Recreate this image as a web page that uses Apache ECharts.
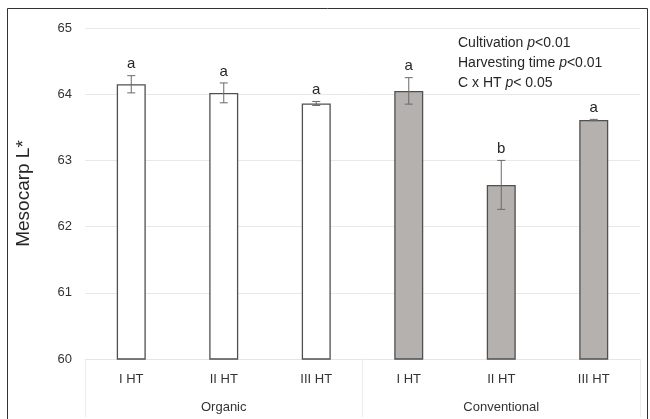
<!DOCTYPE html>
<html><head><meta charset="utf-8">
<script src="https://cdn.jsdelivr.net/npm/echarts@6/dist/echarts.min.js"></script>
<style>html,body{margin:0;padding:0;background:#fff}#c{width:650px;height:419px}</style>
</head><body><div id="c"></div>
<script>
const categories = ['I HT','II HT','III HT','I HT','II HT','III HT'];
const groups = ['Organic','Conventional'];
const means = [64.15, 64.02, 63.86, 64.05, 62.63, 63.61];
const errors = [0.13, 0.15, 0.03, 0.20, 0.37, 0.01];
const letters = ['a','a','a','a','b','a'];
const yTicks = [60, 61, 62, 63, 64, 65];
const notes = ['Cultivation ', 'Harvesting time ', 'C x HT '];
const noteP = ['<0.01', '<0.01', '< 0.05'];

const FONT = '"Liberation Sans", Arial, sans-serif';
const chart = echarts.init(document.getElementById('c'));
const barData = means.map((v,i)=>({value:v, itemStyle:{color: i<3 ? '#ffffff' : '#b5b1ae'}}));
chart.setOption({
  animation:false,
  backgroundColor:'#fff',
  grid:{left:85, right:10, top:28, bottom:60},
  xAxis:[{
    type:'category', data:categories, position:'bottom',
    axisLine:{show:true, lineStyle:{color:'#e6e6e6'}}, axisTick:{show:false},
    axisLabel:{color:'#333', fontSize:13, fontFamily:FONT, margin:14}
  },{
    type:'category', data:groups, position:'bottom',
    axisLine:{show:false},
    axisTick:{show:true, interval:0, length:58, lineStyle:{color:'#ececec'}},
    axisLabel:{color:'#333', fontSize:13, fontFamily:FONT, margin:42}
  }],
  yAxis:{
    type:'value', min:yTicks[0], max:yTicks[yTicks.length-1], interval:1,
    axisLine:{show:false}, axisTick:{show:false},
    splitLine:{lineStyle:{color:'#e8e8e8'}},
    axisLabel:{color:'#333', fontSize:13, fontFamily:FONT, margin:13},
    name:'Mesocarp L*', nameLocation:'middle', nameGap:52,
    nameTextStyle:{color:'#262626', fontSize:19, fontFamily:FONT}
  },
  series:[{
    type:'bar', data:barData, barWidth:29, xAxisIndex:0,
    itemStyle:{borderColor:'#505050', borderWidth:1.3}
  },{
    type:'custom', xAxisIndex:0, z:5,
    data: means.map((m,i)=>[i, m, errors[i]]),
    renderItem:function(params, api){
      const i=api.value(0), m=api.value(1), e=api.value(2);
      const top=api.coord([i, m+e]), bot=api.coord([i, m-e]);
      const x=top[0], hw=4;
      const st={stroke:'#6a6a6a', lineWidth:1};
      return {type:'group', children:[
        {type:'line', shape:{x1:x,y1:top[1],x2:x,y2:bot[1]}, style:st},
        {type:'line', shape:{x1:x-hw,y1:top[1],x2:x+hw,y2:top[1]}, style:st},
        {type:'line', shape:{x1:x-hw,y1:bot[1],x2:x+hw,y2:bot[1]}, style:st},
        {type:'text', x:x, y:top[1]-4, style:{text:letters[i], textAlign:'center', textVerticalAlign:'bottom', fill:'#262626', fontSize:15, fontFamily:FONT}}
      ]};
    }
  }],
  graphic:[
    {type:'rect', shape:{x:7.5, y:8.5, width:640, height:420}, style:{fill:'none', stroke:'#333', lineWidth:1}, silent:true},
    ...notes.map((t,k)=>({type:'text', left:458, top:36+k*20,
      style:{rich:{n:{fontSize:14, fontFamily:FONT, fill:'#262626'}, p:{fontSize:14, fontFamily:FONT, fontStyle:'italic', fill:'#262626'}},
      text:'{n|'+t+'}{p|p}{n|'+noteP[k]+'}'}}))
  ]
});
</script></body></html>
